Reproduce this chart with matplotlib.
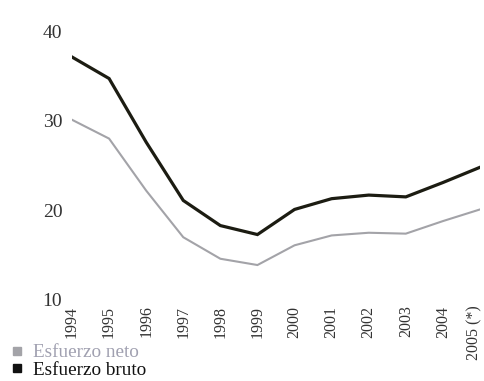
import matplotlib
matplotlib.use("Agg")
import matplotlib.pyplot as plt
import matplotlib.transforms as mtransforms
from matplotlib.lines import Line2D

years = ["1994", "1995", "1996", "1997", "1998", "1999", "2000",
         "2001", "2002", "2003", "2004", "2005 (*)"]
esfuerzo_bruto = [37.1, 34.7, 27.6, 21.1, 18.3, 17.3, 20.1, 21.3, 21.7, 21.5, 23.1, 24.8]
esfuerzo_neto = [30.1, 28.0, 22.2, 17.0, 14.6, 13.9, 16.1, 17.2, 17.5, 17.4, 18.8, 20.1]
series_names = ["Esfuerzo neto", "Esfuerzo bruto"]
yticks = [10, 20, 30, 40]

serif = ["Liberation Serif", "DejaVu Serif"]
c_bruto = "#1c1c12"
c_neto = "#a3a3a8"

fig = plt.figure(figsize=(4.84, 3.81), dpi=100)
ax = fig.add_axes([72 / 484, (381 - 300) / 381, (480 - 72) / 484, (300 - 31) / 381])
x = list(range(len(years)))
ax.plot(x, esfuerzo_neto, color=c_neto, lw=1.5, solid_joinstyle="miter")
ax.plot(x, esfuerzo_bruto, color=c_bruto, lw=2.3, solid_joinstyle="miter")
ax.set_xlim(0, len(years) - 1)
ax.set_ylim(10, 40)
for s in ax.spines.values():
    s.set_visible(False)
ax.set_xticks(x)
ax.set_xticklabels(years, rotation=90, fontfamily=serif, fontsize=11.5, color="#333333")
ax.set_yticks(yticks)
ax.set_yticklabels([str(v) for v in yticks], fontfamily=serif, fontsize=14, color="#333333")
ax.tick_params(axis="both", length=0)
ax.tick_params(axis="x", pad=4)
ax.tick_params(axis="y", pad=7)

last = ax.get_xticklabels()[-1]
last.set_transform(last.get_transform() + mtransforms.ScaledTranslation(-6 / 100, 0, fig.dpi_scale_trans))

handles = [Line2D([], [], marker="s", ls="none", color=c_neto, markersize=6),
           Line2D([], [], marker="s", ls="none", color="#111111", markersize=6)]
leg = fig.legend(handles, series_names, loc="lower left", bbox_to_anchor=(0.0, -0.024),
                 frameon=False, prop={"family": serif, "size": 13.8}, handlelength=0.6,
                 handletextpad=0.5, labelspacing=0.0, borderaxespad=0.2)
leg.get_texts()[0].set_color("#a0a0b0")
leg.get_texts()[1].set_color("#111111")

fig.savefig("out.png", dpi=100)
